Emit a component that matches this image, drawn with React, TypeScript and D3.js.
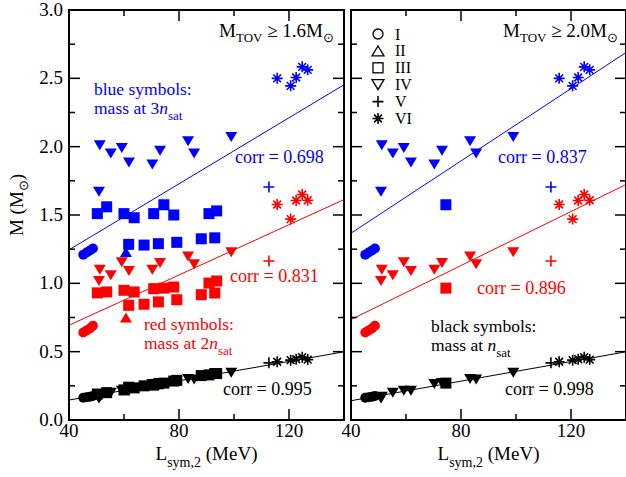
import * as d3 from "d3";

const W = 626;
const H = 477;
const FONT = "'Liberation Serif', 'Times New Roman', serif";
const BLUE = "#0000ff";
const RED = "#ff0000";
const BLACK = "#000000";

// L_sym,2 (MeV) of each EOS group, and masses at 3n_sat (blue), 2n_sat (red), n_sat (black)
const circleL = [45.2, 46.4, 47.6, 48.7];
const circleM3 = [1.21, 1.225, 1.24, 1.255];
const circleM2 = [0.64, 0.655, 0.67, 0.69];
const circleM1 = [0.163, 0.167, 0.171, 0.176];

const upTriL = [60.7];
const upTriM3 = [1.23];
const upTriM2 = [0.75];
const upTriM1 = [0.245];

const squareL = [50.3, 53.7, 60.0, 63.7, 70.8, 74.5, 78.1, 90.9, 93.7, 61.7, 67.3, 72.5, 79.2, 88.1, 93.0];
const squareM3 = [1.51, 1.56, 1.51, 1.48, 1.51, 1.575, 1.5, 1.51, 1.53, 1.285, 1.28, 1.29, 1.3, 1.326, 1.333];
const squareM2 = [0.93, 0.937, 0.949, 0.937, 0.961, 0.965, 0.973, 1.002, 1.017, 0.839, 0.847, 0.864, 0.88, 0.917, 0.929];
const squareM1 = [0.19, 0.2, 0.22, 0.235, 0.255, 0.27, 0.285, 0.33, 0.34, 0.24, 0.25, 0.265, 0.29, 0.325, 0.34];

const downTriL = [51.2, 50.9, 55.2, 59.2, 61.8, 70.3, 73.1, 83.3, 85.5, 99.0];
const downTriM3 = [2.01, 1.67, 1.95, 1.99, 1.885, 1.87, 1.97, 2.04, 1.95, 2.07];
const downTriM2 = [1.1, 1.017, 1.06, 1.155, 1.09, 1.1, 1.148, 1.197, 1.139, 1.228];
const downTriM1 = [0.17, 0.158, 0.2, 0.214, 0.214, 0.263, 0.27, 0.3, 0.297, 0.345];

const plusL = [112.7];
const plusM3 = [1.705];
const plusM2 = [1.163];
const plusM1 = [0.418];

const starL = [115.7, 120.6, 122.6, 124.8, 126.8];
const starM3 = [2.5, 2.445, 2.506, 2.584, 2.562];
const starM2 = [1.577, 1.47, 1.606, 1.65, 1.608];
const starM1 = [0.426, 0.438, 0.445, 0.46, 0.442];

// squares that survive the M_TOV >= 2.0 cut
const rightSquares = [5];

// fitted lines: mass at L = 40 and L = 140
const fitLeft3 = [1.245, 2.453];
const fitLeft2 = [0.693, 1.613];
const fitLeft1 = [0.146, 0.499];
const fitRight3 = [1.367, 2.689];
const fitRight2 = [0.735, 1.723];
const fitRight1 = [0.141, 0.499];

const corrLeft = ["0.698", "0.831", "0.995"];
const corrRight = ["0.837", "0.896", "0.998"];

const legendNames = ["I", "II", "III", "IV", "V", "VI"];
const legendShapes = ["circle", "up", "square", "down", "plus", "star"];

const xMajor = [40, 80, 120];
const xMinor = [60, 100];

const y = d3.scaleLinear().domain([0, 3]).range([420, 10]);

type Pt = { L: number; m: number; shape: string };

function Marker({ shape, cx, cy, color, filled = true }: { shape: string; cx: number; cy: number; color: string; filled?: boolean }) {
  const fill = filled ? color : "none";
  const sw = filled ? 0 : 1.3;
  if (shape === "circle") return <circle cx={cx} cy={cy} r={5} fill={fill} stroke={color} strokeWidth={sw} />;
  if (shape === "square") {
    const s = filled ? 11 : 10;
    return <rect x={cx - s / 2} y={cy - s / 2} width={s} height={s} fill={fill} stroke={color} strokeWidth={sw} />;
  }
  if (shape === "down" || shape === "up") {
    const w = 12, h = 10;
    const p = shape === "down"
      ? `M${cx - w / 2},${cy - h / 2}L${cx + w / 2},${cy - h / 2}L${cx},${cy + h / 2}Z`
      : `M${cx - w / 2},${cy + h / 2}L${cx + w / 2},${cy + h / 2}L${cx},${cy - h / 2}Z`;
    return <path d={p} fill={fill} stroke={color} strokeWidth={sw} />;
  }
  if (shape === "plus") {
    const r = 5.5;
    return <path d={`M${cx - r},${cy}H${cx + r}M${cx},${cy - r}V${cy + r}`} stroke={color} strokeWidth={1.6} fill="none" />;
  }
  // star: asterisk with four strokes
  const r = 5.5;
  const d = d3.range(4).map((i) => {
    const a = (i * Math.PI) / 4;
    const dx = r * Math.sin(a), dy = r * Math.cos(a);
    return `M${cx - dx},${cy - dy}L${cx + dx},${cy + dy}`;
  }).join("");
  return <path d={d} stroke={color} strokeWidth={1.6} fill="none" />;
}

function Panel({ x0, pts3, pts2, pts1, fits, showYLabels }: {
  x0: number; pts3: Pt[]; pts2: Pt[]; pts1: Pt[]; fits: number[][]; showYLabels: boolean;
}) {
  const x = d3.scaleLinear().domain([40, 140]).range([x0, x0 + 275]);
  const [xa, xb] = x.range();
  const [yb, ya] = y.range();
  const yMajor = d3.range(0, 3.01, 0.5);
  const yMinor = d3.range(0.25, 3, 0.5);
  const colors = [BLUE, RED, BLACK];
  return (
    <g>
      {[pts3, pts2, pts1].map((pts, k) => (
        <g key={k}>
          {pts.map((p, i) => (
            <Marker key={i} shape={p.shape} cx={x(p.L)} cy={y(p.m)} color={colors[k]} />
          ))}
        </g>
      ))}
      {fits.map((f, k) => (
        <line key={k} x1={x(40)} y1={y(f[0])} x2={x(140)} y2={y(f[1])} stroke={colors[k]} strokeWidth={1} />
      ))}
      <g stroke="#000" strokeWidth={1.5}>
        {yMajor.map((v) => (
          <g key={v}>
            <line x1={xa} x2={xa + 11} y1={y(v)} y2={y(v)} />
            <line x1={xb} x2={xb - 11} y1={y(v)} y2={y(v)} />
          </g>
        ))}
        {yMinor.map((v) => (
          <g key={v}>
            <line x1={xa} x2={xa + 6} y1={y(v)} y2={y(v)} />
            <line x1={xb} x2={xb - 6} y1={y(v)} y2={y(v)} />
          </g>
        ))}
        {xMajor.map((v) => (
          <g key={v}>
            <line x1={x(v)} x2={x(v)} y1={yb} y2={yb - 11} />
            <line x1={x(v)} x2={x(v)} y1={ya} y2={ya + 11} />
          </g>
        ))}
        {xMinor.map((v) => (
          <g key={v}>
            <line x1={x(v)} x2={x(v)} y1={yb} y2={yb - 6} />
            <line x1={x(v)} x2={x(v)} y1={ya} y2={ya + 6} />
          </g>
        ))}
      </g>
      <rect x={xa} y={ya} width={xb - xa} height={yb - ya} fill="none" stroke="#000" strokeWidth={2} />
      <g fontFamily={FONT} fontSize={19} fill="#000">
        {xMajor.map((v) => (
          <text key={v} x={x(v)} y={437} textAnchor="middle">{v}</text>
        ))}
        {showYLabels && yMajor.map((v) => (
          <text key={v} x={x0 - 6} y={y(v) + 6} textAnchor="end">{v.toFixed(1)}</text>
        ))}
        <text x={(xa + xb) / 2} y={460} textAnchor="middle">
          L<tspan fontSize={14} dy={7}>sym,2</tspan><tspan dy={-7}> (MeV)</tspan>
        </text>
      </g>
    </g>
  );
}

function toPts(L: number[], m: number[], shape: string, idx?: number[]): Pt[] {
  const ids = idx ?? L.map((_, i) => i);
  return ids.map((i) => ({ L: L[i], m: m[i], shape }));
}

function Title({ xEnd, value }: { xEnd: number; value: string }) {
  return (
    <text x={xEnd} y={37} textAnchor="end" fontFamily={FONT} fontSize={19}>
      M<tspan fontSize={13} dy={5}>TOV</tspan><tspan dy={-5}> ≥ {value}M</tspan>
      <tspan fontSize={13} dy={5}>⊙</tspan>
    </text>
  );
}

export default function App() {
  const left3 = [
    ...toPts(circleL, circleM3, "circle"), ...toPts(upTriL, upTriM3, "up"),
    ...toPts(squareL, squareM3, "square"), ...toPts(downTriL, downTriM3, "down"),
    ...toPts(plusL, plusM3, "plus"), ...toPts(starL, starM3, "star"),
  ];
  const left2 = [
    ...toPts(circleL, circleM2, "circle"), ...toPts(upTriL, upTriM2, "up"),
    ...toPts(squareL, squareM2, "square"), ...toPts(downTriL, downTriM2, "down"),
    ...toPts(plusL, plusM2, "plus"), ...toPts(starL, starM2, "star"),
  ];
  const left1 = [
    ...toPts(circleL, circleM1, "circle"), ...toPts(upTriL, upTriM1, "up"),
    ...toPts(squareL, squareM1, "square"), ...toPts(downTriL, downTriM1, "down"),
    ...toPts(plusL, plusM1, "plus"), ...toPts(starL, starM1, "star"),
  ];
  const right3 = [
    ...toPts(circleL, circleM3, "circle"), ...toPts(squareL, squareM3, "square", rightSquares),
    ...toPts(downTriL, downTriM3, "down"), ...toPts(plusL, plusM3, "plus"), ...toPts(starL, starM3, "star"),
  ];
  const right2 = [
    ...toPts(circleL, circleM2, "circle"), ...toPts(squareL, squareM2, "square", rightSquares),
    ...toPts(downTriL, downTriM2, "down"), ...toPts(plusL, plusM2, "plus"), ...toPts(starL, starM2, "star"),
  ];
  const right1 = [
    ...toPts(circleL, circleM1, "circle"), ...toPts(squareL, squareM1, "square", rightSquares),
    ...toPts(downTriL, downTriM1, "down"), ...toPts(plusL, plusM1, "plus"), ...toPts(starL, starM1, "star"),
  ];

  return (
    <svg width={W} height={H} style={{ position: "absolute", left: 0, top: 0, background: "#fff" }}>
      <Panel x0={69} pts3={left3} pts2={left2} pts1={left1} fits={[fitLeft3, fitLeft2, fitLeft1]} showYLabels />
      <Panel x0={351} pts3={right3} pts2={right2} pts1={right1} fits={[fitRight3, fitRight2, fitRight1]} showYLabels={false} />

      <text transform="translate(23,205) rotate(-90)" textAnchor="middle" fontFamily={FONT} fontSize={19}>
        M (M<tspan fontSize={13} dy={5}>⊙</tspan><tspan dy={-5}>)</tspan>
      </text>

      <Title xEnd={334} value="1.6" />
      <Title xEnd={618} value="2.0" />

      <g fontFamily={FONT} fontSize={18}>
        <g fill={BLUE}>
          <text x={94} y={95} fontSize={17.5}>blue symbols:</text>
          <text x={94} y={114} fontSize={17.5}>mass at 3<tspan fontStyle="italic">n</tspan><tspan fontSize={13} dy={6}>sat</tspan></text>
          <text x={235} y={163}>corr = {corrLeft[0]}</text>
          <text x={498} y={163}>corr = {corrRight[0]}</text>
        </g>
        <g fill={RED}>
          <text x={230} y={282}>corr = {corrLeft[1]}</text>
          <text x={144} y={330} fontSize={17.5}>red symbols:</text>
          <text x={144} y={349} fontSize={17.5}>mass at 2<tspan fontStyle="italic">n</tspan><tspan fontSize={13} dy={6}>sat</tspan></text>
          <text x={477} y={294}>corr = {corrRight[1]}</text>
        </g>
        <g fill={BLACK}>
          <text x={223} y={395}>corr = {corrLeft[2]}</text>
          <text x={431} y={332} fontSize={17.5}>black symbols:</text>
          <text x={431} y={351} fontSize={17.5}>mass at <tspan fontStyle="italic">n</tspan><tspan fontSize={13} dy={6}>sat</tspan></text>
          <text x={505} y={395}>corr = {corrRight[2]}</text>
        </g>
      </g>

      <g fontFamily={FONT} fontSize={16}>
        {legendNames.map((name, i) => (
          <g key={name}>
            <Marker shape={legendShapes[i]} cx={378} cy={34 + i * 16.9} color={BLACK} filled={false} />
            <text x={395} y={34 + i * 16.9 + 5.5}>{name}</text>
          </g>
        ))}
      </g>
    </svg>
  );
}
